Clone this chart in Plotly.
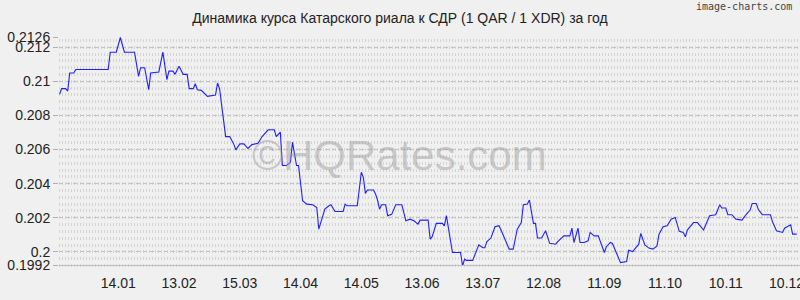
import pandas as pd
import plotly.graph_objects as go

title_text = "Динамика курса Катарского риала к СДР (1 QAR / 1 XDR) за год"
start_date = "2022-12-16"

# day offsets from start_date and QAR/XDR rate values
days = [0, 1, 3, 4, 5, 7, 8, 24, 25, 28, 30, 32, 37, 39, 40, 42, 44, 45, 49, 51,
        53, 54, 56, 57, 59, 61, 63, 64, 66, 67, 68, 70, 73, 75, 77, 78, 79, 82, 84, 86,
        87, 89, 91, 93, 95, 98, 100, 103, 106, 107, 109, 110, 112, 114, 115, 117, 118, 120, 122, 125,
        127, 128, 131, 133, 134, 136, 140, 141, 142, 147, 149, 150, 151, 152, 155, 156, 157, 158, 159, 161,
        162, 164, 166, 169, 171, 173, 175, 177, 178, 182, 183, 184, 186, 189, 190, 191, 192, 193, 194, 198,
        199, 200, 201, 204, 206, 207, 209, 210, 211, 213, 215, 217, 219, 222, 224, 226, 228, 229, 231, 232,
        234, 235, 236, 238, 240, 242, 245, 246, 249, 252, 253, 254, 256, 257, 259, 261, 262, 264, 266, 268,
        269, 270, 272, 273, 275, 277, 280, 281, 283, 285, 286, 287, 289, 291, 293, 295, 296, 298, 300, 302,
        304, 306, 308, 309, 310, 313, 315, 318, 319, 321, 324, 326, 327, 329, 330, 332, 334, 337, 339, 341,
        342, 344, 345, 347, 351, 352, 354, 357, 358, 361, 362, 364]
rates = [0.20924, 0.20957, 0.20957, 0.20943, 0.21049, 0.21049, 0.21069, 0.21069, 0.21171, 0.21171,
         0.21257, 0.21171, 0.21171, 0.21029, 0.21080, 0.21080, 0.20951, 0.21049, 0.21055, 0.21171,
         0.21010, 0.21060, 0.21060, 0.21041, 0.21088, 0.21041, 0.21041, 0.20957, 0.20957, 0.20986,
         0.20951, 0.20947, 0.20912, 0.20916, 0.20920, 0.20990, 0.20957, 0.20676, 0.20676, 0.20633,
         0.20598, 0.20633, 0.20633, 0.20606, 0.20629, 0.20637, 0.20676, 0.20716, 0.20716, 0.20676,
         0.20702, 0.20506, 0.20506, 0.20525, 0.20643, 0.20506, 0.20506, 0.20300, 0.20280, 0.20276,
         0.20260, 0.20133, 0.20251, 0.20270, 0.20276, 0.20237, 0.20237, 0.20280, 0.20270, 0.20270,
         0.20467, 0.20437, 0.20343, 0.20363, 0.20363, 0.20340, 0.20304, 0.20250, 0.20276, 0.20276,
         0.20212, 0.20220, 0.20276, 0.20276, 0.20182, 0.20192, 0.20182, 0.20163, 0.20186, 0.20186,
         0.20075, 0.20089, 0.20167, 0.20167, 0.20153, 0.20212, 0.20133, 0.20081, 0.19996, 0.19996,
         0.19918, 0.19957, 0.19950, 0.19950, 0.20016, 0.20041, 0.20024, 0.20024, 0.20060, 0.20081,
         0.20147, 0.20153, 0.20100, 0.20016, 0.20016, 0.20133, 0.20172, 0.20276, 0.20280, 0.20304,
         0.20167, 0.20167, 0.20081, 0.20081, 0.20124, 0.20050, 0.20045, 0.20060, 0.20094, 0.20094,
         0.20139, 0.20055, 0.20139, 0.20055, 0.20055, 0.20065, 0.20114, 0.20094, 0.20094, 0.20035,
         0.19996, 0.20030, 0.20055, 0.20049, 0.19996, 0.19937, 0.19943, 0.20010, 0.20002, 0.20035,
         0.20045, 0.20108, 0.20041, 0.20022, 0.20016, 0.20035, 0.20104, 0.20147, 0.20153, 0.20192,
         0.20202, 0.20120, 0.20114, 0.20088, 0.20128, 0.20172, 0.20172, 0.20128, 0.20153, 0.20212,
         0.20218, 0.20276, 0.20257, 0.20257, 0.20218, 0.20218, 0.20192, 0.20186, 0.20218, 0.20245,
         0.20284, 0.20284, 0.20250, 0.20218, 0.20218, 0.20178, 0.20124, 0.20114, 0.20139, 0.20159,
         0.20104, 0.20104]

x_tick_dates = ["2023-01-14", "2023-02-13", "2023-03-15", "2023-04-14", "2023-05-14", "2023-06-13",
                "2023-07-13", "2023-08-12", "2023-09-11", "2023-10-11", "2023-11-10", "2023-12-10"]
x_tick_labels = ["14.01", "13.02", "15.03", "14.04", "14.05", "13.06",
                 "13.07", "12.08", "11.09", "11.10", "10.11", "10.12"]
y_tick_vals = [0.1992, 0.2, 0.202, 0.204, 0.206, 0.208, 0.21, 0.212, 0.2126]
y_tick_labels = ["0.1992", "0.2", "0.202", "0.204", "0.206", "0.208", "0.21", "0.212", "0.2126"]

t0 = pd.Timestamp(start_date)
dates = [t0 + pd.Timedelta(days=d) for d in days]
x_range = [t0 - pd.Timedelta(hours=7), t0 + pd.Timedelta(days=365, hours=15)]

fig = go.Figure()
fig.add_trace(go.Scatter(x=dates, y=rates, mode="lines",
                         line=dict(color="#2020ff", width=1.1), hoverinfo="skip"))

bg = "#f0f0f0"
fig.update_layout(
    width=800, height=300,
    margin=dict(l=59, r=0, t=37, b=27),
    paper_bgcolor=bg, plot_bgcolor=bg,
    showlegend=False,
    font=dict(family="Liberation Sans, Arial, sans-serif", size=14, color="#222222"),
    title=dict(text=title_text, x=0.5, xanchor="center", y=1 - 18 / 300, yanchor="middle",
               yref="container", font=dict(size=14, color="#222222")),
)
fig.update_xaxes(
    type="date", range=x_range, automargin=False,
    tickmode="array", tickvals=[pd.Timestamp(d) for d in x_tick_dates], ticktext=x_tick_labels,
    showgrid=False, zeroline=False, showline=False, ticks="", ticklen=4,
    ticklabeloverflow="allow",
    tickfont=dict(size=14, color="#222222"),
)
fig.update_yaxes(
    range=[0.19876, 0.2126], automargin=False,
    tickmode="array", tickvals=y_tick_vals, ticktext=y_tick_labels,
    showgrid=True, gridcolor="#c4c4c4", griddash="4px,3px", gridwidth=1,
    zeroline=False, showline=False, ticks="outside", ticklen=5, tickcolor="#b0b0b0",
    ticklabeloverflow="allow",
    tickfont=dict(size=14, color="#222222"),
    minor=dict(dtick=0.0004, tick0=0.2, showgrid=True, gridcolor="#d4d4d4",
               gridwidth=3, griddash="1px,2px", ticks=""),
)
fig.add_hline(y=0.1992, line=dict(color="#c0c0c0", width=1))
fig.add_annotation(text="©HQRates.com", xref="paper", yref="paper", x=0.46, y=0.5,
                   showarrow=False, font=dict(size=42, color="rgba(150,150,150,0.45)",
                                              family="Liberation Sans, Arial, sans-serif"))
fig.add_annotation(text="image-charts.com", xref="paper", yref="paper",
                   x=1, xanchor="right", y=1 + 30 / 236, yanchor="middle",
                   showarrow=False, xshift=-6,
                   font=dict(size=10, color="#444444", family="DejaVu Sans Mono, monospace"))

fig.write_html("out.html")
